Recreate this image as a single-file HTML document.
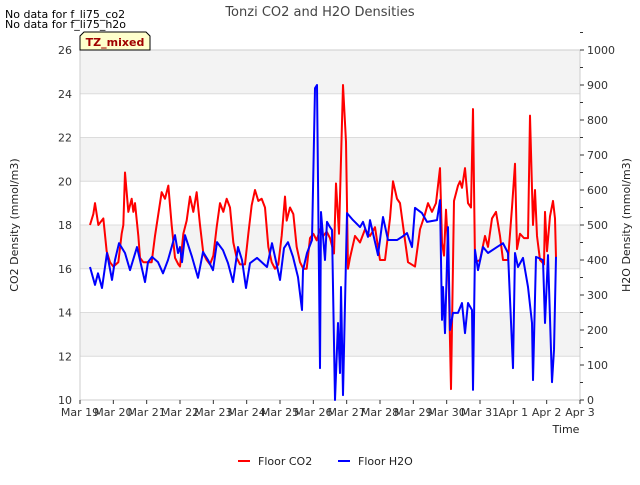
<!DOCTYPE html>
<html><head><meta charset="utf-8"><style>
body{margin:0;background:#fff;font-family:"Liberation Sans",sans-serif;}
svg text{font-family:"DejaVu Sans","Liberation Sans",sans-serif;}
</style></head><body>
<svg id="chart" width="640" height="480" xmlns="http://www.w3.org/2000/svg">
<text x="320" y="16" font-size="13" fill="#444" text-anchor="middle">Tonzi CO2 and H2O Densities</text>
<text x="5" y="18" font-size="11" fill="#000">No data for f_li75_co2</text>
<text x="5" y="28" font-size="11" fill="#000">No data for f_li75_h2o</text>
<g id="plot"></g>
<g>
<polygon points="84,32 146,32 150,36 150,50 80,50 80,36" fill="#ffffcc" stroke="#000" stroke-width="1"/>
<text x="115" y="46" font-size="11" font-weight="bold" fill="#a00000" text-anchor="middle">TZ_mixed</text>
</g>
<text transform="translate(18,225) rotate(-90)" font-size="11" fill="#222" text-anchor="middle">CO2 Density (mmol/m3)</text>
<text transform="translate(630,225) rotate(-90)" font-size="11" fill="#222" text-anchor="middle">H2O Density (mmol/m3)</text>
<text x="566" y="433" font-size="11" fill="#222" text-anchor="middle">Time</text>
<g>
<line x1="238" y1="461" x2="250" y2="461" stroke="#f00" stroke-width="2"/>
<text x="258" y="465" font-size="11" fill="#222">Floor CO2</text>
<line x1="338" y1="461" x2="350" y2="461" stroke="#00f" stroke-width="2"/>
<text x="358" y="465" font-size="11" fill="#222">Floor H2O</text>
</g>
</svg>
<script>
const xTickLabels=["Mar 19","Mar 20","Mar 21","Mar 22","Mar 23","Mar 24","Mar 25","Mar 26","Mar 27","Mar 28","Mar 29","Mar 30","Mar 31","Apr 1","Apr 2","Apr 3"];
const leftTicks=[10,12,14,16,18,20,22,24,26];
const rightTicks=[0,100,200,300,400,500,600,700,800,900,1000];
const co2Days=[0.3,0.4,0.45,0.55,0.7,0.8,0.9,1.0,1.15,1.25,1.3,1.35,1.45,1.55,1.6,1.65,1.75,1.8,1.9,2.0,2.15,2.25,2.35,2.45,2.55,2.65,2.75,2.85,2.95,3.0,3.1,3.2,3.3,3.4,3.5,3.6,3.7,3.8,3.9,4.0,4.1,4.2,4.3,4.4,4.5,4.6,4.7,4.8,4.95,5.05,5.15,5.25,5.35,5.45,5.55,5.65,5.75,5.85,5.95,6.05,6.15,6.2,6.3,6.4,6.5,6.6,6.7,6.8,6.9,7.0,7.1,7.2,7.3,7.4,7.5,7.62,7.68,7.77,7.89,7.98,8.04,8.1,8.25,8.4,8.55,8.7,8.85,9.0,9.15,9.3,9.39,9.51,9.6,9.75,9.84,10.05,10.2,10.35,10.44,10.56,10.68,10.8,10.86,10.92,10.98,11.04,11.13,11.22,11.34,11.4,11.46,11.55,11.64,11.73,11.79,11.85,12.0,12.15,12.24,12.36,12.48,12.6,12.69,12.84,12.96,13.05,13.11,13.2,13.32,13.44,13.5,13.59,13.65,13.71,13.8,13.92,13.95,14.01,14.1,14.19,14.25,14.28];
const co2Values=[18.0,18.5,19.0,18.0,18.3,16.8,16.3,16.1,16.3,17.6,18.0,20.4,18.6,19.2,18.6,19.0,17.5,16.5,16.3,16.3,16.3,17.5,18.5,19.5,19.2,19.8,18.0,16.5,16.2,16.1,17.6,18.2,19.3,18.6,19.5,18.0,16.7,16.4,16.2,16.6,17.9,19.0,18.6,19.2,18.8,17.2,16.5,16.2,16.2,17.6,18.9,19.6,19.1,19.2,18.8,17.0,16.3,16.0,16.2,17.5,19.3,18.2,18.8,18.5,17.0,16.3,16.0,16.0,17.4,17.6,17.3,17.8,17.5,17.7,17.4,16.7,19.9,17.6,24.4,21.8,16.0,16.5,17.5,17.2,17.8,17.5,17.9,16.4,16.4,18.3,20.0,19.2,19.0,17.3,16.3,16.1,17.8,18.5,19.0,18.6,19.0,20.6,17.2,16.6,18.7,17.0,10.5,19.1,19.8,20.0,19.7,20.6,19.0,18.8,23.3,16.3,16.4,17.5,17.0,18.3,18.6,17.5,16.4,16.4,18.8,20.8,16.9,17.6,17.4,17.4,23.0,18.0,19.6,17.5,16.4,16.2,18.6,16.8,18.4,19.1,18.3,16.5];
const h2oDays=[0.3,0.45,0.54,0.66,0.81,0.96,1.05,1.17,1.35,1.5,1.71,1.8,1.95,2.04,2.16,2.34,2.49,2.64,2.85,2.94,3.0,3.06,3.15,3.36,3.54,3.69,3.84,3.99,4.11,4.29,4.44,4.59,4.74,4.86,4.98,5.1,5.31,5.61,5.76,5.85,6.0,6.12,6.24,6.39,6.54,6.66,6.69,6.81,6.96,7.05,7.11,7.2,7.23,7.35,7.41,7.5,7.56,7.65,7.74,7.8,7.83,7.89,8.01,8.19,8.4,8.49,8.64,8.7,8.94,9.09,9.24,9.51,9.66,9.81,9.96,10.05,10.26,10.41,10.71,10.8,10.86,10.89,10.95,11.04,11.1,11.19,11.34,11.46,11.55,11.64,11.76,11.79,11.85,11.94,12.09,12.24,12.51,12.69,12.84,12.99,13.05,13.14,13.29,13.44,13.56,13.59,13.68,13.89,13.95,14.04,14.16,14.22,14.28];
const h2oValues=[380,329,362,320,420,343,400,448,420,371,437,400,337,394,409,394,362,400,471,420,437,394,471,409,349,423,400,371,451,428,391,337,437,400,320,391,406,380,448,409,343,434,451,409,351,257,371,420,457,891,900,91,537,400,509,494,486,0,220,77,323,14,534,514,494,509,466,514,414,523,457,457,466,477,437,549,534,509,514,571,229,323,191,494,200,249,249,277,191,277,257,29,429,371,437,420,437,448,420,91,420,380,406,323,220,57,409,400,220,414,51,143,409];

const NS="http://www.w3.org/2000/svg";
const X0=80,X1=580,Y0=50,Y1=400;
const xScale=d=>X0+d*(X1-X0)/15;
const yLeft=v=>Y1-(v-10)*(Y1-Y0)/16;
const yRight=v=>Y1-v*(Y1-Y0)/1000;
const plot=document.getElementById('plot');
function mk(tag,attrs,parent){const e=document.createElementNS(NS,tag);for(const k in attrs)e.setAttribute(k,attrs[k]);(parent||plot).appendChild(e);return e;}

// background bands + grid
for(let i=0;i<leftTicks.length-1;i++){
  const lo=leftTicks[i],hi=leftTicks[i+1];
  const r=mk('rect',{x:X0,y:yLeft(hi),width:X1-X0,height:yLeft(lo)-yLeft(hi),fill:(i%2===1)?'#f3f3f3':'#ffffff'});
  
  
}
leftTicks.forEach(v=>{
  const g=mk('line',{x1:X0,x2:X1,y1:yLeft(v),y2:yLeft(v),stroke:'#dcdcdc','stroke-width':1});
  
  
  const t=mk('text',{x:X0-8,y:yLeft(v)+4,'font-size':11,fill:'#333','text-anchor':'end'});
  t.textContent=v;
  
  
});
mk('rect',{x:X0,y:Y0,width:X1-X0,height:Y1-Y0,fill:'none',stroke:'#ccc','stroke-width':1});
rightTicks.forEach(v=>{
  mk('line',{x1:X1,x2:X1+4,y1:yRight(v),y2:yRight(v),stroke:'#333'});
  mk('line',{x1:X1,x2:X1+3,y1:yRight(v+50),y2:yRight(v+50),stroke:'#333'});
  const t=mk('text',{x:X1+7,y:yRight(v)+4,'font-size':11,fill:'#333'});
  t.textContent=v;
  
  
});
xTickLabels.forEach((s,i)=>{
  mk('line',{x1:xScale(i),x2:xScale(i),y1:Y1,y2:Y1+4,stroke:'#333'});
  const t=mk('text',{x:xScale(i),y:Y1+16,'font-size':11,fill:'#333','text-anchor':'middle'});
  t.textContent=s;
  
  
});
const co2=mk('polyline',{points:co2Days.map((d,i)=>xScale(d)+','+yLeft(co2Values[i])).join(' '),fill:'none',stroke:'#ff0000','stroke-width':2,'stroke-linejoin':'round'});


const h2o=mk('polyline',{points:h2oDays.map((d,i)=>xScale(d)+','+yRight(h2oValues[i])).join(' '),fill:'none',stroke:'#0000ff','stroke-width':2,'stroke-linejoin':'round'});


</script>
</body></html>
